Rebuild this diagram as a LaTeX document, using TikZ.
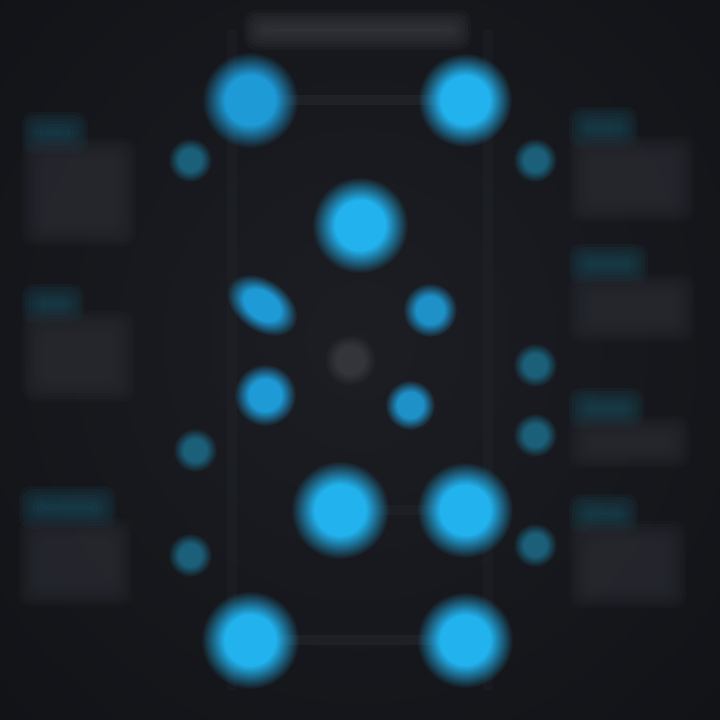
\documentclass[tikz,border=0pt]{standalone}
\usetikzlibrary{fadings}
\definecolor{bgdark}{HTML}{121317}
\definecolor{bgmid}{HTML}{1F2127}
\definecolor{cblue}{HTML}{22B2EE}
\definecolor{cmid}{HTML}{1E9AD6}
\definecolor{cdim}{HTML}{1B5F78}
\definecolor{pgray}{HTML}{2C2E35}
\definecolor{pteal}{HTML}{1B4756}
\definecolor{lgray}{HTML}{3A3C42}
\definecolor{linec}{HTML}{2B2E35}
\pgfdeclareradialshading{softdiscsh}{\pgfpointorigin}{color(0bp)=(pgftransparent!0); color(13bp)=(pgftransparent!0); color(25bp)=(pgftransparent!100); color(50bp)=(pgftransparent!100)}
\pgfdeclarefading{softdisc}{\pgfuseshading{softdiscsh}}
\pgfdeclareradialshading{widefadesh}{\pgfpointorigin}{color(0bp)=(pgftransparent!20); color(25bp)=(pgftransparent!100); color(50bp)=(pgftransparent!100)}
\pgfdeclarefading{widefade}{\pgfuseshading{widefadesh}}
\tikzset{
  glowdot/.style={fill=#1, path fading=softdisc},
  faint/.style={draw=linec, line width=5pt, opacity=0.4},
}
\newcommand\softrect[5]{% color, x1,y1,x2,y2
  \foreach \k in {0,...,7}{
    \fill[#1, opacity=0.16, rounded corners=6pt]
      ({#2-6+\k*3},{#3-6+\k*3}) rectangle ({#4+6-\k*3},{#5+6-\k*3});
  }}
\begin{document}
\begin{tikzpicture}[x=0.5pt,y=0.5pt]
\useasboundingbox (0,0) rectangle (720,720);
\fill[bgdark] (0,0) rectangle (720,720);
\fill[bgmid, path fading=widefade] (360,380) ellipse (520 and 560);
% coordinates
\coordinate (A) at (250,620);
\coordinate (B) at (465,620);
\coordinate (C) at (360,495);
\coordinate (D) at (340,210);
\coordinate (E) at (465,210);
\coordinate (F) at (250,80);
\coordinate (G) at (465,80);
\coordinate (M1) at (262,415);
\coordinate (M2) at (265,325);
\coordinate (M3) at (430,410);
\coordinate (M4) at (410,315);
\coordinate (S1) at (190,560);
\coordinate (S2) at (535,560);
\coordinate (S3) at (195,270);
\coordinate (S4) at (190,165);
\coordinate (S5) at (535,355);
\coordinate (S6) at (535,285);
\coordinate (S7) at (535,175);
\coordinate (Z) at (350,360);
\coordinate (TA) at (232,690);
\coordinate (TF) at (232,30);
\coordinate (TB) at (488,690);
\coordinate (TG) at (488,30);
% faint connectors
\draw[faint] (A) -- (B);
\draw[faint] (F) -- (G);
\draw[faint, opacity=0.2] (TA) -- (TF);
\draw[faint, opacity=0.2] (TB) -- (TG);
\draw[faint, opacity=0.25] (D) -- (E);
% title bar
\softrect{lgray}{250}{676}{465}{704}
% left panels
\softrect{pteal}{28}{572}{82}{602}
\softrect{pgray}{28}{480}{130}{576}
\softrect{pteal}{28}{402}{78}{430}
\softrect{pgray}{28}{324}{128}{403}
\softrect{pteal}{25}{197}{110}{228}
\softrect{pgray}{25}{120}{126}{196}
% right panels
\softrect{pteal}{575}{577}{632}{607}
\softrect{pgray}{575}{504}{688}{578}
\softrect{pteal}{575}{442}{642}{470}
\softrect{pgray}{575}{384}{688}{440}
\softrect{pteal}{575}{297}{638}{326}
\softrect{pgray}{575}{258}{684}{298}
\softrect{pteal}{575}{192}{632}{220}
\softrect{pgray}{575}{118}{680}{193}
% centre grey dot
\fill[glowdot=lgray, opacity=0.8] (Z) circle (26);
% small dim dots
\foreach \p in {S1,S2,S3,S4,S5,S6,S7}{\fill[glowdot=cdim] (\p) circle (22);}
% medium dots
\begin{scope}[transform canvas={shift={(M1)}, rotate=-35, xscale=1.5}]
\fill[glowdot=cmid] (0,0) circle (26);
\end{scope}
\fill[glowdot=cmid] (M2) circle (31);
\fill[glowdot=cmid!85!cdim] (M3) circle (27);
\fill[glowdot=cmid!85!cdim] (M4) circle (25);
% big dots
\fill[glowdot=cmid] (A) circle (48);
\fill[glowdot=cblue] (B) circle (47);
\fill[glowdot=cblue] (C) circle (48);
\fill[glowdot=cblue] (D) circle (49);
\fill[glowdot=cblue] (E) circle (48);
\fill[glowdot=cblue] (F) circle (49);
\fill[glowdot=cblue] (G) circle (48);
\end{tikzpicture}
\end{document}
